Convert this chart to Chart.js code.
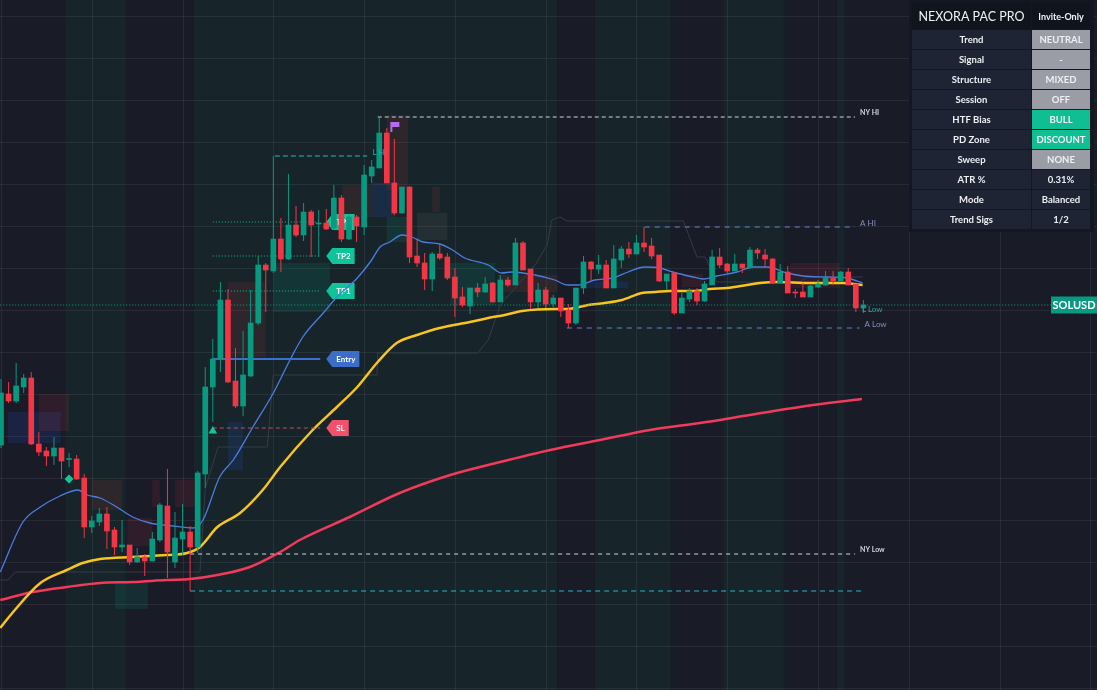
<!DOCTYPE html>
<html>
<head>
<meta charset="utf-8">
<title>SOLUSD</title>
<style>
  html, body { margin: 0; padding: 0; background: #191b27; overflow: hidden; }
  #box { position: relative; width: 1097px; height: 690px; }
</style>
</head>
<body>
<div id="box"><canvas id="chart"></canvas></div>
<script src="https://cdn.jsdelivr.net/npm/chart.js@4.4.1/dist/chart.umd.min.js"></script>
<script>
// candles, one per bar index
const opens = [
  155.5, 160.6, 159.9, 161.3, 162.2, 155.6, 154.9, 154.4, 155.2, 154.05,
  154.1, 152.2, 147.3, 147.8, 148.6, 147.0, 145.3, 145.5, 143.8, 144.3,
  143.9, 146.0, 149.4, 143.8, 146.1, 146.8, 145.3, 152.6, 161.3, 164.1,
  170.0, 161.9, 159.4, 162.4, 167.7, 173.5, 172.9, 176.1, 174.1, 177.5,
  176.5, 178.8, 177.6, 177.7, 177.2, 180.2, 176.1, 178.3, 177.3, 182.4,
  183.2, 186.7, 181.7, 178.7, 181.3, 174.4, 173.7, 172.1, 174.6, 174.3,
  172.3, 170.3, 169.4, 171.2, 170.8, 171.7, 169.8, 172.0, 171.5, 175.7,
  173.1, 169.8, 171.0, 169.6, 170.2, 169.0, 167.7, 171.2, 173.8, 173.1,
  173.5, 171.2, 174.0, 175.1, 174.6, 175.7, 175.4, 174.5, 171.9, 172.7,
  168.7, 170.1, 170.9, 169.9, 171.5, 174.3, 173.6, 172.9, 173.6, 173.2,
  175.0, 174.5, 174.1, 171.7, 172.8, 170.8, 170.8, 170.3, 171.3, 171.5,
  172.2, 171.9, 172.8, 171.6, 169.2
];
const highs = [
  162.1, 161.8, 163.7, 162.6, 162.8, 156.8, 155.3, 156.3, 155.2, 154.7,
  154.5, 152.6, 148.4, 149.2, 149.3, 147.3, 148.0, 145.5, 145.2, 144.6,
  146.8, 149.7, 153.1, 148.8, 149.6, 147.4, 152.9, 163.3, 166.1, 171.8,
  171.1, 165.2, 166.9, 171.0, 174.4, 173.7, 184.4, 178.2, 182.6, 179.4,
  179.7, 179.0, 179.0, 179.1, 181.5, 180.5, 178.5, 178.5, 183.5, 184.0,
  188.3, 187.2, 186.1, 181.3, 181.4, 176.0, 174.7, 174.8, 175.6, 174.7,
  173.2, 171.3, 171.2, 171.7, 172.3, 171.8, 172.5, 172.3, 176.2, 175.9,
  173.1, 171.7, 171.3, 170.5, 170.2, 169.6, 171.2, 174.4, 173.9, 174.5,
  174.0, 175.5, 175.4, 175.8, 176.5, 177.3, 176.2, 174.5, 172.6, 172.8,
  170.7, 171.2, 171.2, 171.9, 175.0, 175.2, 173.7, 174.6, 173.6, 175.3,
  175.2, 175.1, 174.2, 173.6, 173.4, 171.1, 171.7, 171.5, 172.0, 172.9,
  172.9, 172.9, 173.2, 171.6, 170.0
];
const lows = [
  155.2, 159.7, 159.7, 160.7, 155.5, 154.4, 153.4, 153.5, 152.1, 153.3,
  152.0, 146.2, 146.7, 147.4, 145.1, 144.5, 144.8, 143.5, 143.7, 142.4,
  143.9, 145.8, 142.2, 143.2, 144.5, 140.9, 144.7, 151.2, 157.8, 162.8,
  161.7, 159.2, 158.4, 162.3, 167.5, 168.8, 172.7, 172.8, 174.0, 176.3,
  175.9, 174.3, 174.3, 177.0, 177.0, 175.8, 176.0, 175.8, 176.5, 181.7,
  183.2, 181.7, 178.5, 178.6, 173.7, 173.3, 171.0, 170.9, 174.0, 172.0,
  168.3, 169.3, 168.6, 170.3, 170.7, 169.8, 169.8, 171.3, 171.5, 173.0,
  169.1, 169.2, 169.2, 169.3, 168.3, 167.2, 167.5, 170.6, 171.9, 172.6,
  171.2, 171.2, 173.2, 174.2, 174.6, 174.8, 174.1, 171.8, 171.0, 168.5,
  168.7, 169.8, 169.5, 169.8, 171.5, 173.2, 172.7, 172.9, 172.7, 173.2,
  174.1, 173.2, 171.6, 171.7, 170.7, 170.2, 170.3, 170.3, 171.2, 171.4,
  171.5, 171.9, 171.5, 168.8, 168.7
];
const closes = [
  160.7, 159.9, 161.4, 162.2, 155.6, 154.8, 154.4, 155.2, 153.9, 154.1,
  152.1, 147.3, 147.9, 148.6, 146.9, 145.3, 145.5, 143.8, 144.3, 143.9,
  146.1, 149.5, 144.8, 146.2, 146.8, 145.3, 152.7, 161.3, 164.1, 170.0,
  161.8, 159.4, 162.5, 167.7, 173.5, 173.0, 176.1, 174.1, 177.5, 176.5,
  178.8, 177.5, 177.7, 177.1, 180.2, 176.1, 178.3, 177.4, 182.5, 183.3,
  186.7, 181.7, 178.7, 181.3, 174.3, 173.7, 172.1, 174.6, 174.2, 172.2,
  170.2, 169.5, 171.2, 170.8, 171.6, 169.8, 172.0, 171.5, 175.7, 173.0,
  169.8, 171.0, 169.6, 170.2, 168.9, 167.7, 171.2, 173.8, 173.1, 173.5,
  171.2, 174.1, 175.1, 174.6, 175.7, 175.3, 174.4, 171.9, 172.6, 168.7,
  170.2, 170.9, 169.9, 171.6, 174.3, 173.5, 172.9, 173.6, 173.2, 175.0,
  174.7, 174.1, 171.7, 172.8, 170.7, 170.7, 170.3, 171.4, 171.6, 172.2,
  171.9, 172.8, 171.5, 169.2, 169.5
];

// moving averages, read as knots (bar index, price)
const fastIdx = [-0.1, 2.9, 5.2, 7.8, 10.2, 11.4, 13.1, 15.3, 17.4, 19.7, 22.7, 25.4, 26.7, 28.9, 30.7, 33.3, 36.0, 38.2, 39.9, 42.6, 44.4, 47.1, 49.0, 50.1, 51.4, 53.0, 54.3, 55.8, 58.0, 59.7, 61.3, 64.4, 66.2, 67.5, 70.6, 73.2, 74.9, 76.3, 78.5, 80.8, 82.9, 85.1, 87.1, 88.8, 91.5, 92.8, 94.6, 97.3, 99.4, 101.3, 103.9, 106.0, 109.2, 111.8, 113.9];
const fastVal = [142.8, 147.8, 149.3, 150.4, 151.0, 150.5, 150.2, 149.3, 148.3, 147.7, 147.4, 147.2, 148.0, 152.3, 154.0, 157.3, 160.7, 164.0, 166.3, 168.7, 170.3, 172.2, 174.0, 175.3, 175.8, 176.5, 176.3, 175.8, 175.6, 175.0, 174.2, 173.5, 172.7, 172.8, 172.5, 172.0, 171.5, 171.5, 172.0, 172.2, 172.8, 173.3, 173.2, 172.8, 172.3, 172.1, 172.4, 172.8, 173.3, 173.3, 172.7, 172.4, 172.3, 172.2, 171.7];
const midIdx = [-0.1, 1.6, 5.2, 8.7, 10.8, 13.1, 17.4, 21.9, 24.6, 26.3, 28.6, 31.6, 34.6, 36.9, 41.2, 44.4, 47.1, 49.8, 52.3, 55.0, 58.0, 62.0, 64.4, 66.6, 68.9, 73.2, 74.9, 77.6, 79.8, 82.1, 84.7, 86.5, 88.4, 91.5, 93.7, 96.0, 98.6, 100.3, 102.6, 106.9, 111.3, 113.9];
const midVal = [137.2, 138.8, 141.7, 143.0, 143.7, 144.1, 144.3, 144.5, 144.7, 145.3, 147.3, 148.7, 151.0, 153.3, 157.0, 159.3, 161.3, 163.8, 165.7, 166.5, 167.2, 167.8, 168.2, 168.5, 168.9, 169.1, 169.1, 169.5, 169.7, 170.0, 170.7, 170.8, 170.9, 170.9, 171.1, 171.2, 171.5, 171.7, 171.8, 171.7, 171.7, 171.5];
const slowIdx = [-0.1, 4.2, 8.7, 13.1, 17.4, 21.9, 25.0, 28.6, 32.9, 36.9, 39.5, 46.1, 52.7, 59.4, 66.0, 72.6, 79.2, 85.8, 92.4, 99.0, 105.6, 113.8];
const slowVal = [140.0, 140.8, 141.3, 141.7, 141.8, 142.0, 142.1, 142.5, 143.3, 144.8, 146.0, 148.3, 150.7, 152.5, 153.8, 155.0, 156.0, 157.0, 157.7, 158.5, 159.3, 160.1];
const trailIdx = [-0.1, 0.9, 1.9, 26.3, 27.0, 28.7, 35.2, 36.0, 49.7, 49.8, 63.0, 64.4, 66.0, 70.6, 72.2, 72.8, 73.9, 74.8, 90.2, 92.0, 93.1, 94.6, 105.6, 106.5, 113.9];
const trailVal = [142.0, 142.0, 142.8, 142.8, 151.2, 155.3, 155.3, 162.5, 162.5, 164.7, 164.7, 166.0, 169.5, 173.5, 175.5, 178.0, 178.3, 177.9, 177.9, 174.3, 174.3, 171.8, 171.8, 172.3, 172.3];

// liquidity levels
const levelNames = ['NY HI', 'L Hi', 'A HI', 'A Low', 'NY Low', ''];
const levelPrices = [188.3, 184.4, 177.3, 167.2, 144.6, 140.9];
const levelFrom = [49.8, 36.2, 85.1, 74.8, 25.0, 25.0];
const levelTo = [112.9, 48.4, 112.9, 113.5, 112.9, 114.0];
const lLowPrice = 169.1;

// trade setup
const tradeNames = ['TP3', 'TP2', 'TP1', 'Entry', 'SL'];
const tradePrices = [177.8, 174.4, 170.9, 164.1, 157.2];
const tradeFrom = 28.0;
const tradeTo = 42.2;

// signals
const diamondAt = [9.0, 152.1];
const triangleAt = [28.0, 156.9];
const flagAt = [52.0, 187.3];

// sessions (bar index ranges) and zones
const sessionRanges = [[9, 16], [26, 73], [79, 88], [96, 103], [111, 111]];
const zoneFrom   = [0.9, 5.0, 12.0, 16.7, 20.0, 23.0, 15.1, 30.0, 30.0, 36.0, 45.1, 49.0, 51.0, 51.0, 55.0, 57.0, 59.4, 65.7, 76.8, 90.0, 104.3];
const zoneTo     = [7.9, 9.0, 16.0, 20.0, 21.0, 25.6, 19.4, 32.0, 35.0, 43.5, 49.0, 52.1, 53.8, 54.1, 59.0, 58.0, 65.3, 73.6, 82.9, 92.8, 110.9];
const zoneTop    = [158.8, 160.6, 152.0, 148.2, 152.0, 152.0, 141.8, 157.8, 171.8, 173.7, 181.5, 181.7, 188.5, 178.3, 178.7, 181.3, 173.7, 172.5, 171.8, 172.6, 173.7];
const zoneBottom = [155.7, 156.9, 149.0, 145.4, 149.3, 149.3, 139.1, 153.0, 164.3, 168.8, 178.3, 178.3, 181.0, 175.8, 176.0, 178.8, 169.5, 170.8, 171.2, 171.3, 171.2];
const zoneKind   = ['bull', 'bear', 'bear', 'bear', 'bear', 'bear', 'demand', 'bull', 'bear', 'demand', 'bear', 'bull', 'bear', 'demand', 'neutral', 'bear', 'demand', 'bear', 'bull', 'bear', 'bear'];

// dashboard
const symbol = 'SOLUSD';
const tableTitle = 'NEXORA PAC PRO';
const tableTag = 'Invite-Only';
const tableLabels = ['Trend', 'Signal', 'Structure', 'Session', 'HTF Bias', 'PD Zone', 'Sweep', 'ATR %', 'Mode', 'Trend Sigs'];
const tableValues = ['NEUTRAL', '-', 'MIXED', 'OFF', 'BULL', 'DISCOUNT', 'NONE', '0.31%', 'Balanced', '1/2'];
const tableStates = ['neutral', 'neutral', 'neutral', 'neutral', 'bull', 'bull', 'neutral', 'info', 'info', 'info'];

// ---------- styling ----------
const UP = '#089981', DOWN = '#f23645';
const FONT = 'Lato, "DejaVu Sans", sans-serif';
const levelStyles = [
  {color: '#d1d4dc', dash: [4, 3], text: '#d1d4dc', font: 'bold 7px '},
  {color: '#22b8cf', dash: [5, 3], text: '#2aa3c0', font: '8px '},
  {color: '#5d86d8', dash: [5, 5], text: '#8290bd', font: '8px '},
  {color: '#5d86d8', dash: [5, 5], text: '#8290bd', font: '8px '},
  {color: '#d1d4dc', dash: [4, 4], text: '#d1d4dc', font: 'bold 7px '},
  {color: '#22b8cf', dash: [5, 4], text: '#22b8cf', font: '8px '}
];
const tradeStyles = {
  TP3: {line: '#1db992', dash: [1, 2], width: 1, tag: '#0fc39a'},
  TP2: {line: '#1db992', dash: [1, 2], width: 1, tag: '#0fc39a'},
  TP1: {line: '#1db992', dash: [1, 2], width: 1, tag: '#0fc39a'},
  Entry: {line: '#3d6fd1', dash: [], width: 2, tag: '#3b6ec8'},
  SL: {line: '#c64a62', dash: [4, 3], width: 1, tag: '#f2506b'}
};
const zoneColors = {
  bull: 'rgba(41,98,255,0.13)',
  bear: 'rgba(242,54,69,0.10)',
  demand: 'rgba(8,153,129,0.15)',
  neutral: 'rgba(120,123,134,0.13)'
};
const cellColors = {neutral: '#9a9da6', bull: '#0fbf93', info: '#1e2434'};

const idx = opens.map((_, i) => i);
const colors = idx.map(i => closes[i] >= opens[i] ? UP : DOWN);
const knots = (xs, ys) => xs.map((x, i) => ({x, y: ys[i]}));
const lastPrice = closes[closes.length - 1];

const datasets = [];
datasets.push({type: 'line', data: knots(trailIdx, trailVal), borderColor: '#363b47', borderWidth: 1, pointRadius: 0, tension: 0, order: 12});
datasets.push({type: 'line', data: knots(slowIdx, slowVal), borderColor: '#f23a5a', borderWidth: 2.5, pointRadius: 0, cubicInterpolationMode: 'monotone', order: 11});
datasets.push({type: 'line', data: knots(midIdx, midVal), borderColor: '#f7c51e', borderWidth: 2.5, pointRadius: 0, cubicInterpolationMode: 'monotone', order: 10});
datasets.push({type: 'line', data: knots(fastIdx, fastVal), borderColor: '#4a7ee0', borderWidth: 1.3, pointRadius: 0, cubicInterpolationMode: 'monotone', order: 9});
levelPrices.forEach((p, i) => {
  datasets.push({type: 'line', data: [{x: levelFrom[i], y: p}, {x: levelTo[i], y: p}],
    borderColor: levelStyles[i].color, borderDash: levelStyles[i].dash, borderWidth: 1, pointRadius: 0, order: 8});
});
tradeNames.forEach((n, i) => {
  const s = tradeStyles[n];
  datasets.push({type: 'line', data: [{x: tradeFrom, y: tradePrices[i]}, {x: tradeTo, y: tradePrices[i]}],
    borderColor: s.line, borderDash: s.dash, borderWidth: s.width, pointRadius: 0, order: 8});
});
datasets.push({type: 'line', data: [{x: -0.5, y: lastPrice}, {x: 138.8, y: lastPrice}],
  borderColor: '#0b9e86', borderDash: [1, 2], borderWidth: 1, pointRadius: 0, order: 7});
datasets.push({type: 'bar', data: idx.map(i => ({x: i, y: [lows[i], highs[i]]})),
  backgroundColor: colors, barThickness: 1, grouped: false, inflateAmount: 0, order: 3});
datasets.push({type: 'bar', data: idx.map(i => ({x: i, y: [opens[i], closes[i]]})),
  backgroundColor: colors, barThickness: 5, grouped: false, minBarLength: 1, order: 2});
datasets.push({type: 'scatter', data: [{x: diamondAt[0], y: diamondAt[1]}], pointStyle: 'rectRot', pointRadius: 4.5,
  backgroundColor: '#14c49a', borderWidth: 0, order: 1});
datasets.push({type: 'scatter', data: [{x: triangleAt[0], y: triangleAt[1]}], pointStyle: 'triangle', pointRadius: 5,
  backgroundColor: '#14c49a', borderWidth: 0, order: 1});

function drawTag(ctx, xTip, yc, text, color) {
  ctx.font = 'bold 8px ' + FONT;
  const w = ctx.measureText(text).width + 14, h = 16, n = 6;
  ctx.fillStyle = color;
  ctx.beginPath();
  ctx.moveTo(xTip, yc);
  ctx.lineTo(xTip + n, yc - h / 2);
  ctx.lineTo(xTip + w, yc - h / 2);
  ctx.lineTo(xTip + w, yc + h / 2);
  ctx.lineTo(xTip + n, yc + h / 2);
  ctx.closePath();
  ctx.fill();
  ctx.fillStyle = '#ffffff';
  ctx.textAlign = 'center';
  ctx.textBaseline = 'middle';
  ctx.fillText(text, xTip + n / 2 + w / 2, yc + 0.5);
}

const overlay = {
  id: 'overlay',
  beforeDraw(chart) {
    const {ctx, width, height} = chart;
    const x = chart.scales.x;
    ctx.save();
    ctx.fillStyle = '#191b27';
    ctx.fillRect(0, 0, width, height);
    ctx.fillStyle = '#172429';
    sessionRanges.forEach(([a, b]) => {
      const l = x.getPixelForValue(a - 0.5), r = x.getPixelForValue(b + 0.5);
      ctx.fillRect(l, 0, r - l, height);
    });
    ctx.restore();
  },
  beforeDatasetsDraw(chart) {
    const {ctx, width, height} = chart;
    const x = chart.scales.x, y = chart.scales.y;
    ctx.save();
    // grid
    ctx.strokeStyle = 'rgba(255,255,255,0.065)';
    ctx.lineWidth = 1;
    for (let v = 0; v <= 144; v += 12) {
      const px = Math.round(x.getPixelForValue(v)) + 0.5;
      ctx.beginPath(); ctx.moveTo(px, 0); ctx.lineTo(px, height); ctx.stroke();
    }
    for (let v = 198.4; v > 130; v -= 4.2) {
      const py = Math.round(y.getPixelForValue(v)) + 0.5;
      ctx.beginPath(); ctx.moveTo(0, py); ctx.lineTo(width, py); ctx.stroke();
    }
    // zones
    zoneFrom.forEach((a, i) => {
      const l = x.getPixelForValue(a), r = x.getPixelForValue(zoneTo[i]);
      const t = y.getPixelForValue(zoneTop[i]), b = y.getPixelForValue(zoneBottom[i]);
      ctx.fillStyle = zoneColors[zoneKind[i]];
      ctx.fillRect(l, t, r - l, b - t);
    });
    // trade tags
    const tip = x.getPixelForValue(tradeTo) + 6;
    tradeNames.forEach((n, i) => drawTag(ctx, tip, y.getPixelForValue(tradePrices[i]), n, tradeStyles[n].tag));
    ctx.restore();
  },
  afterDatasetsDraw(chart) {
    const {ctx} = chart;
    const x = chart.scales.x, y = chart.scales.y;
    ctx.save();
    ctx.textAlign = 'left';
    ctx.textBaseline = 'middle';
    levelNames.forEach((n, i) => {
      if (!n) return;
      const s = levelStyles[i];
      ctx.font = s.font + FONT;
      ctx.fillStyle = s.text;
      ctx.fillText(n, x.getPixelForValue(levelTo[i]) + 5, y.getPixelForValue(levelPrices[i]) - 4);
    });
    ctx.font = '8px ' + FONT;
    ctx.fillStyle = '#2aa79b';
    ctx.fillText('L Low', x.getPixelForValue(113.8), y.getPixelForValue(lLowPrice));
    // flag
    const fx = x.getPixelForValue(flagAt[0]), fy = y.getPixelForValue(flagAt[1]);
    ctx.fillStyle = '#b36cf0';
    ctx.fillRect(fx - 4, fy - 5, 2, 10);
    ctx.fillRect(fx - 3, fy - 5, 8, 5);
    ctx.restore();
  },
  afterDraw(chart) {
    const {ctx} = chart;
    const y = chart.scales.y;
    ctx.save();
    // price tag
    const py = y.getPixelForValue(lastPrice);
    ctx.fillStyle = '#089981';
    ctx.fillRect(1051, py - 8.5, 46, 17);
    ctx.fillStyle = '#ffffff';
    ctx.font = 'bold 11px ' + FONT;
    ctx.textAlign = 'center';
    ctx.textBaseline = 'middle';
    ctx.fillText(symbol, 1074, py + 0.5);
    // dashboard table
    ctx.fillStyle = '#131722';
    ctx.fillRect(909, 0, 185, 232);
    ctx.fillStyle = '#10141d';
    ctx.fillRect(912, 3, 119, 26);
    ctx.fillRect(1032, 3, 58, 26);
    ctx.fillStyle = '#f0f2f6';
    ctx.font = '12.5px ' + FONT;
    ctx.fillText(tableTitle, 971.5, 16.5);
    ctx.font = 'bold 9px ' + FONT;
    ctx.fillText(tableTag, 1061, 17);
    tableLabels.forEach((lab, r) => {
      const top = 30 + r * 20;
      ctx.fillStyle = '#1e2434';
      ctx.fillRect(912, top, 119, 19);
      ctx.fillStyle = cellColors[tableStates[r]];
      ctx.fillRect(1032, top, 58, 19);
      ctx.fillStyle = '#eef0f4';
      ctx.font = 'bold 9.5px ' + FONT;
      ctx.fillText(lab, 971.5, top + 10);
      ctx.fillText(tableValues[r], 1061, top + 10);
    });
    ctx.restore();
  }
};

new Chart(document.getElementById('chart'), {
  type: 'bar',
  data: {datasets},
  options: {
    responsive: true,
    maintainAspectRatio: false,
    animation: false,
    layout: {padding: 0, autoPadding: false},
    plugins: {legend: {display: false}, tooltip: {enabled: false}},
    scales: {
      x: {type: 'linear', min: -0.132, max: 144.88, offset: false, display: false},
      y: {type: 'linear', min: 131, max: 200, display: false}
    }
  },
  plugins: [overlay]
});
</script>
</body>
</html>
